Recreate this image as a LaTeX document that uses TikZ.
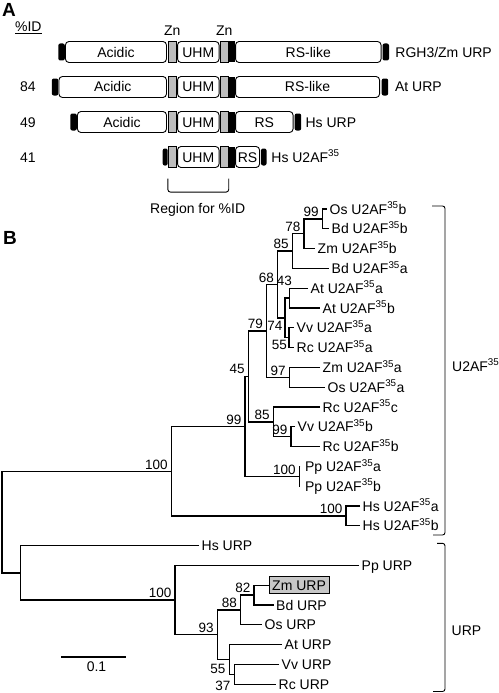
\documentclass[tikz,border=0pt]{standalone}
\usepackage{fontspec}
\setmainfont{Liberation Sans}
\usetikzlibrary{positioning}
\definecolor{zngray}{gray}{0.74}
\definecolor{hlgray}{gray}{0.78}

\tikzset{
  lbl/.style={font=\fontsize{14}{16}\selectfont, inner sep=0pt, text height=10pt, text depth=0pt},
  leaf/.style={lbl, anchor=west, inner xsep=2.5pt},
  bs/.style={font=\fontsize{13.5}{15}\selectfont, inner sep=0pt, text height=9.7pt, text depth=0pt, anchor=south east},
  bsb/.style={bs, anchor=north east},
  dom/.style={lbl, draw, line width=0.9pt, fill=white, rounded corners=3.5pt, minimum height=21pt},
  zn/.style={draw, line width=0.7pt, fill=zngray, minimum width=8pt, minimum height=21pt, inner sep=0pt},
  blk/.style={fill=black, minimum width=6pt, minimum height=21pt, inner sep=0pt},
  endcap/.style={fill=black, rounded corners=2pt, minimum width=6.5pt, minimum height=17pt, inner sep=0pt},
  br/.style={line width=1.25pt},
  brk/.style={line width=0.9pt, rounded corners=2.5pt},
  panel/.style={font=\bfseries\fontsize{19}{21}\selectfont, inner sep=0pt, anchor=north west},
}

\begin{document}
\begin{tikzpicture}[x=1pt, y=-1pt]
    \useasboundingbox (0,0) rectangle (498,693);

    % Panel A: domain rows
    \node[panel] (pA) at (2,3) {A};
    \node[font=\fontsize{14}{16}\selectfont, inner sep=0pt, anchor=base] (pid) at (28.3,31.7) {\underline{\%ID}};

    \node[zn]                                    (znA1) at (172.25,52) {};
    \node[dom, minimum width=101pt, left=1pt of znA1]  (acid1) {Acidic};
    \node[endcap, left=0pt of acid1]             (capL1) {};
    \node[dom, minimum width=41.5pt, right=0.5pt of znA1] (uhm1) {UHM};
    \node[zn, right=0.5pt of uhm1]               (znB1) {};
    \node[blk, right=0pt of znB1]                (blk1) {};
    \node[dom, minimum width=145.5pt, right=0pt of blk1] (rs1) {RS-like};
    \node[endcap, right=0.8pt of rs1]            (capR1) {};
    \node[lbl, right=6pt of capR1]               (nm1) {RGH3/Zm URP};
    \node[lbl, above=5.5pt of znA1]              (zn1) {Zn};
    \node[lbl, above=5.5pt of znB1]              (zn2) {Zn};

    \node[zn]                                    (znA2) at (172.25,87) {};
    \node[dom, minimum width=107.5pt, left=1pt of znA2] (acid2) {Acidic};
    \node[endcap, left=0pt of acid2]             (capL2) {};
    \node[dom, minimum width=41.5pt, right=0.5pt of znA2] (uhm2) {UHM};
    \node[zn, right=0.5pt of uhm2]               (znB2) {};
    \node[blk, right=0pt of znB2]                (blk2) {};
    \node[dom, minimum width=144pt, right=0pt of blk2] (rs2) {RS-like};
    \node[endcap, right=1.5pt of rs2]            (capR2) {};
    \node[lbl, right=6.5pt of capR2]             (nm2) {At URP};
    \node[lbl] (id84) at (28,87) {84};

    \node[zn]                                    (znA3) at (172.25,122) {};
    \node[dom, minimum width=89pt, left=1pt of znA3] (acid3) {Acidic};
    \node[endcap, left=0pt of acid3]             (capL3) {};
    \node[dom, minimum width=41.5pt, right=0.5pt of znA3] (uhm3) {UHM};
    \node[zn, right=0.5pt of uhm3]               (znB3) {};
    \node[blk, right=0pt of znB3]                (blk3) {};
    \node[dom, minimum width=57.5pt, right=0pt of blk3] (rs3) {RS};
    \node[endcap, right=1pt of rs3]              (capR3) {};
    \node[lbl, right=4pt of capR3]               (nm3) {Hs URP};
    \node[lbl] (id49) at (28,122) {49};

    \node[zn]                                    (znA4) at (172.25,157) {};
    \node[endcap, minimum width=5pt, left=0pt of znA4] (capL4) {};
    \node[dom, minimum width=41.5pt, right=0.5pt of znA4] (uhm4) {UHM};
    \node[zn, right=0.5pt of uhm4]               (znB4) {};
    \node[blk, right=0pt of znB4]                (blk4) {};
    \node[dom, minimum width=24pt, right=0pt of blk4] (rs4) {RS};
    \node[endcap, minimum width=5.5pt, right=0.8pt of rs4] (capR4) {};
    \node[lbl, right=4.5pt of capR4]             (nm4) {Hs U2AF\textsuperscript{35}};
    \node[lbl] (id41) at (28,157) {41};

    \draw[brk] ([yshift=-10.8pt]znA4.south west) -- ++(0,13.4) -| ([yshift=-10.8pt]znB4.south east);
    \node[lbl] (region) at (197.7,208.3) {Region for \%ID};

    % Panel B: tree leaves
    \node[panel] (pB) at (3,231) {B};
    \node[leaf] (osb) at (327,209.0) {Os U2AF\textsuperscript{35}b};
    \node[leaf] (bdb) at (329,228.8) {Bd U2AF\textsuperscript{35}b};
    \node[leaf] (zmb) at (315,248.6) {Zm U2AF\textsuperscript{35}b};
    \node[leaf] (bda) at (329,268.4) {Bd U2AF\textsuperscript{35}a};
    \node[leaf] (ata) at (308,288.2) {At U2AF\textsuperscript{35}a};
    \node[leaf] (atb) at (320,308.0) {At U2AF\textsuperscript{35}b};
    \node[leaf] (vva) at (294,327.8) {Vv U2AF\textsuperscript{35}a};
    \node[leaf] (rca) at (294,347.6) {Rc U2AF\textsuperscript{35}a};
    \node[leaf] (zma) at (320,367.4) {Zm U2AF\textsuperscript{35}a};
    \node[leaf] (osa) at (325,387.2) {Os U2AF\textsuperscript{35}a};
    \node[leaf] (rcc) at (320,407.0) {Rc U2AF\textsuperscript{35}c};
    \node[leaf] (vvb) at (295,426.8) {Vv U2AF\textsuperscript{35}b};
    \node[leaf] (rcb) at (320,446.6) {Rc U2AF\textsuperscript{35}b};
    \node[leaf, inner xsep=4.5pt] (ppa) at (300.3,466.4) {Pp U2AF\textsuperscript{35}a};
    \node[leaf, inner xsep=4.5pt] (ppb) at (300.3,486.2) {Pp U2AF\textsuperscript{35}b};
    \node[leaf] (hsa) at (360,506.0) {Hs U2AF\textsuperscript{35}a};
    \node[leaf] (hsb) at (360,525.8) {Hs U2AF\textsuperscript{35}b};
    \node[leaf] (hsurp) at (199,545.6) {Hs URP};
    \node[leaf] (ppurp) at (359,565.4) {Pp URP};
    \node[leaf, draw, line width=0.8pt, fill=hlgray, inner xsep=3.3pt, inner ysep=3.6pt] (zmurp) at (268.5,585.2) {Zm URP};
    \node[leaf] (bdurp) at (273.5,605.0) {Bd URP};
    \node[leaf] (osurp) at (262,624.8) {Os URP};
    \node[leaf] (aturp) at (282,644.6) {At URP};
    \node[leaf] (vvurp) at (279,664.4) {Vv URP};
    \node[leaf] (rcurp) at (276,684.2) {Rc URP};

    % Internal nodes
    \coordinate (n99a) at (322.3,218.9);
    \coordinate (n78)  at (304,233.8);
    \coordinate (n85a) at (292.3,251.1);
    \coordinate (nAt)  at (289.3,298.1);
    \coordinate (nVR)  at (289,337.7);
    \coordinate (nX)   at (285,317.9);
    \coordinate (n68)  at (277.7,284.5);
    \coordinate (n97)  at (289.3,377.3);
    \coordinate (n79)  at (266.7,330.9);
    \coordinate (n99b) at (291,436.7);
    \coordinate (n85b) at (273.3,421.9);
    \coordinate (n45)  at (248.3,376.4);
    \coordinate (nPp)  at (299.3,476.3);
    \coordinate (n99c) at (245,426.4);
    \coordinate (nHs)  at (346,515.9);
    \coordinate (n100a) at (171.3,471.2);
    \coordinate (n82)  at (254,595.1);
    \coordinate (n88)  at (240.7,610);
    \coordinate (n37)  at (234.3,674.3);
    \coordinate (n55u) at (229.3,659.5);
    \coordinate (n93)  at (217.3,634.8);
    \coordinate (n100b) at (175,600.1);
    \coordinate (nURP) at (20.7,572.9);
    \coordinate (root) at (2,522.05);

    % Connect the nodes
    \draw[br] (osb.west) -| (n99a) |- (bdb.west);
    \draw[br] (n99a) -| (n78) |- (zmb.west);
    \draw[br] (n78) -| (n85a) |- (bda.west);
    \draw[br] (ata.west) -| (nAt) |- (atb.west);
    \draw[br] (vva.west) -| (nVR) |- (rca.west);
    \draw[br] (nAt) -| (nX) |- (nVR);
    \draw[br] (n85a) -| (n68) |- (nX);
    \draw[br] (zma.west) -| (n97) |- (osa.west);
    \draw[br] (n68) -| (n79) |- (n97);
    \draw[br] (vvb.west) -| (n99b) |- (rcb.west);
    \draw[br] (rcc.west) -| (n85b) |- (n99b);
    \draw[br] (n79) -| (n45) |- (n85b);
    \draw[br] (ppa.west) -| (nPp) |- (ppb.west);
    \draw[br] (n45) -| (n99c) |- (nPp);
    \draw[br] (hsa.west) -| (nHs) |- (hsb.west);
    \draw[br] (n99c) -| (n100a) |- (nHs);
    \draw[br] (zmurp.west) -| (n82) |- (bdurp.west);
    \draw[br] (n82) -| (n88) |- (osurp.west);
    \draw[br] (vvurp.west) -| (n37) |- (rcurp.west);
    \draw[br] (aturp.west) -| (n55u) |- (n37);
    \draw[br] (n88) -| (n93) |- (n55u);
    \draw[br] (ppurp.west) -| (n100b) |- (n93);
    \draw[br] (hsurp.west) -| (nURP) |- (n100b);
    \draw[br] (n100a) -| (root) |- (nURP);

    % Bootstrap values
    \node[bs] (b99a) at (318.8,216.9) {99};
    \node[bs] (b78)  at (300.5,231.8) {78};
    \node[bs] (b85a) at (288.8,249.1) {85};
    \node[bs] (b68)  at (274.2,282.5) {68};
    \node[bs] (b43)  at (292,286) {43};
    \node[bsb] (b74) at (282.5,320.5) {74};
    \node[bs] (b55)  at (287,349.5) {55};
    \node[bs] (b97)  at (285.8,375.3) {97};
    \node[bs] (b79)  at (263.2,328.9) {79};
    \node[bs] (b85b) at (269.8,419.9) {85};
    \node[bs] (b99b) at (287.5,434.7) {99};
    \node[bs] (b45)  at (244.8,373.4) {45};
    \node[bs] (b100p) at (295.8,474.3) {100};
    \node[bs] (b99c) at (241.5,424.4) {99};
    \node[bs] (b100h) at (342.5,513.9) {100};
    \node[bs] (b100a) at (167.8,469.2) {100};
    \node[bs] (b82)  at (250.5,593.1) {82};
    \node[bs] (b88)  at (237.2,608) {88};
    \node[bs] (b93)  at (213.8,632.8) {93};
    \node[bs] (b55u) at (225.5,674) {55};
    \node[bs] (b37)  at (230.5,690.8) {37};
    \node[bs] (b100b) at (171.5,598.1) {100};

    % Clade brackets and scale bar
    \draw[brk] (432,206) -| (445,535) -- (433,535);
    \node[lbl, anchor=west] (cU2) at (452,366) {U2AF\textsuperscript{35}};
    \draw[brk] (437,543.3) -| (445,691.5) -- (433,691.5);
    \node[lbl, anchor=west] (cURP) at (451.5,630) {URP};

    \coordinate (sbl) at (61,657);
    \coordinate (sbr) at (126,657);
    \draw[br] (sbl) -- (sbr);
    \node[lbl] (sbt) at (96.5,666.5) {0.1};
\end{tikzpicture}
\end{document}
